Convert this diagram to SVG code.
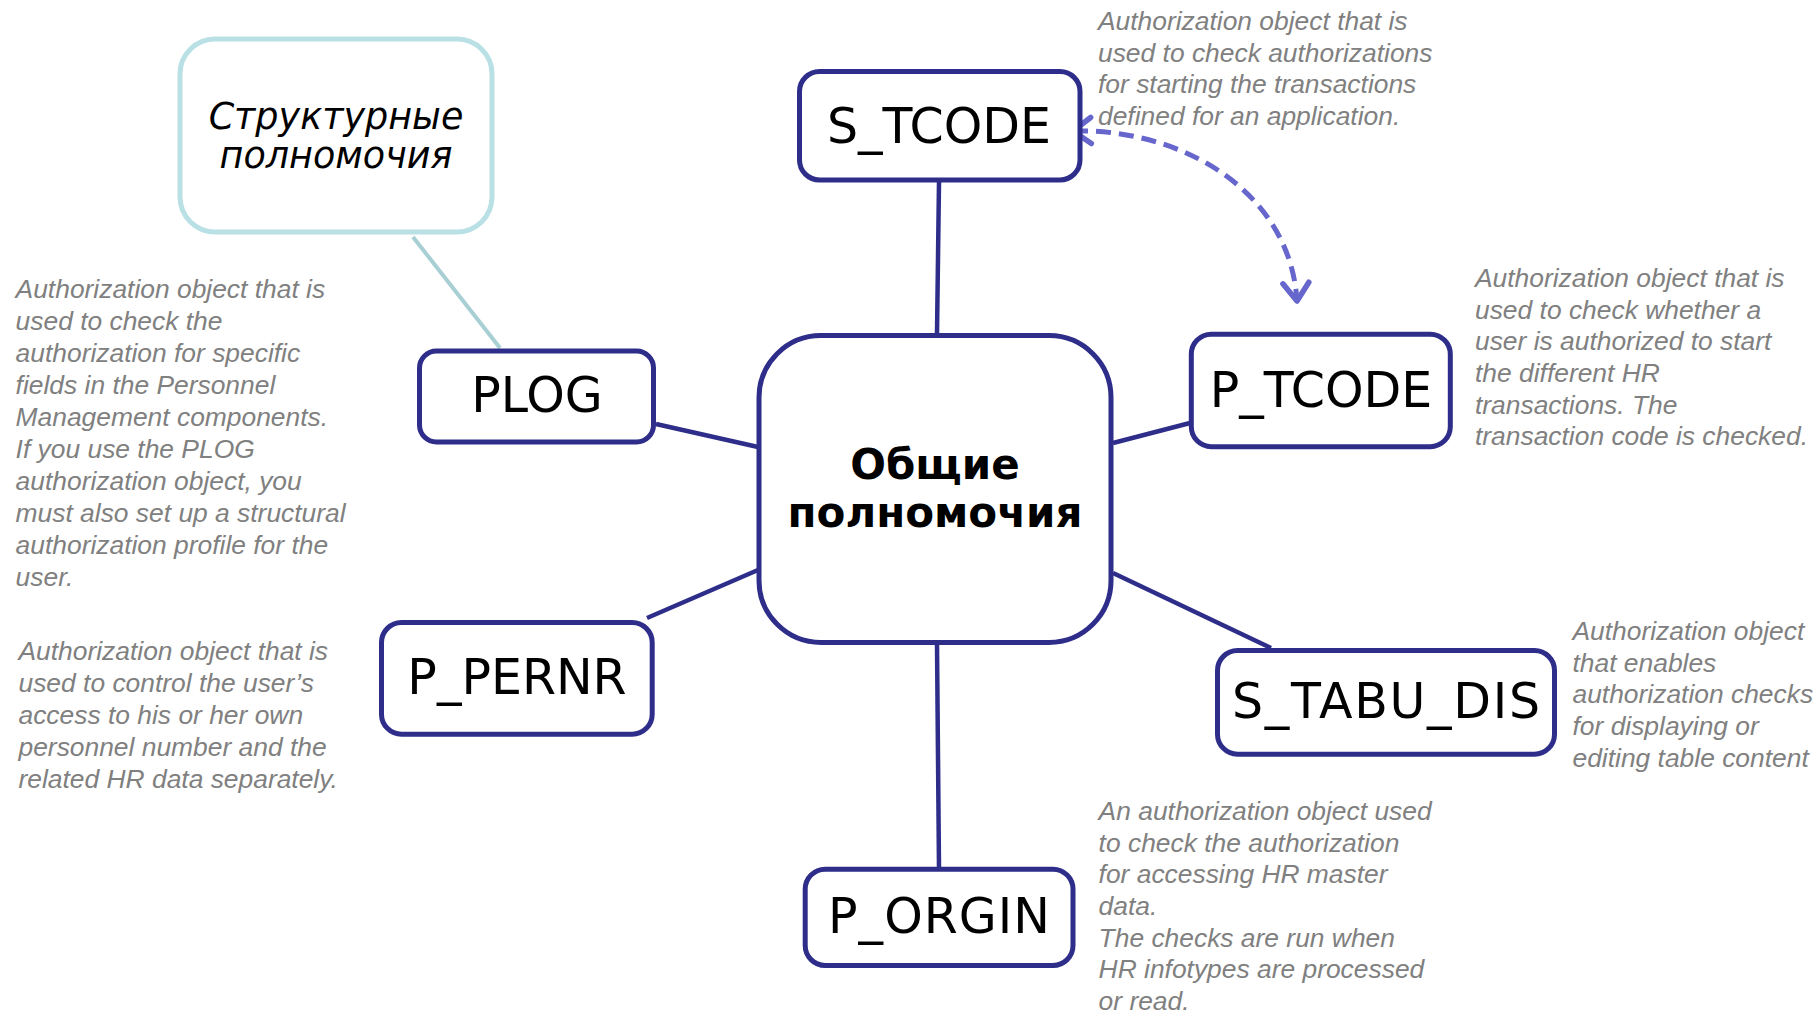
<svg xmlns="http://www.w3.org/2000/svg" width="1820" height="1017" viewBox="0 0 1820 1017">
<style>
.box{fill:#ffffff;stroke:#2e2e8a;stroke-width:5}
.sbox{fill:#ffffff;stroke:#b9e0e4;stroke-width:5}
.lbl{font-family:"DejaVu Sans",Verdana,sans-serif;font-size:49px;fill:#000000;text-anchor:middle}
.center{font-family:"DejaVu Sans",Verdana,sans-serif;font-size:42px;font-weight:bold;fill:#000000;text-anchor:middle}
.struct{font-family:"DejaVu Sans",Verdana,sans-serif;font-size:36.5px;font-style:italic;fill:#000000;text-anchor:middle}
.desc{font-family:"Liberation Sans",Arial,sans-serif;font-size:26.4px;font-style:italic;fill:#808080}
.conn{stroke:#2e2e8a;stroke-width:4.5;fill:none}
.sconn{stroke:#a8d0d4;stroke-width:4;fill:none}
.dash{stroke:#6666cc;stroke-width:5;fill:none;stroke-dasharray:15 8}
</style>
<defs>
<marker id="chev" markerUnits="userSpaceOnUse" viewBox="-24 -18 30 36" markerWidth="30" markerHeight="36" refX="0" refY="0" orient="auto-start-reverse">
<path d="M-18,-13 L0,0 L-18,13" fill="none" stroke="#6666cc" stroke-width="5.5" stroke-linecap="round" stroke-linejoin="round"/>
</marker>
</defs>
<rect width="1820" height="1017" fill="#ffffff"/>
<g id="connectors">
<path class="sconn" d="M413 237 L500 348"/>
<path class="conn" d="M939 182 L937 334"/>
<path class="conn" d="M656 424 L758 447"/>
<path class="conn" d="M647 618 L758 570"/>
<path class="conn" d="M1190 423 L1113 443"/>
<path class="conn" d="M1113 573 L1271 648"/>
<path class="conn" d="M937 644 L939 868"/>
<path class="dash" d="M1073 131 C1180 128 1290 190 1297 301" marker-start="url(#chev)" marker-end="url(#chev)"/>
</g>
<g id="structural">
<rect class="sbox" x="180" y="39" width="312" height="193" rx="35"/>
<text class="struct" x="336" y="129">Структурные</text>
<text class="struct" x="336" y="168">полномочия</text>
</g>
<g id="center">
<rect class="box" x="759" y="335.5" width="352" height="307" rx="62"/>
<text class="center" x="935" y="479">Общие</text>
<text class="center" x="935" y="527">полномочия</text>
</g>
<g id="s_tcode">
<rect class="box" x="799.5" y="71.5" width="280.5" height="108.5" rx="20"/>
<text class="lbl" x="939" y="143">S_TCODE</text>
</g>
<g id="plog">
<rect class="box" x="419.5" y="351" width="234" height="91" rx="17"/>
<text class="lbl" x="537" y="412">PLOG</text>
</g>
<g id="p_tcode">
<rect class="box" x="1191.3" y="334.2" width="259" height="112.5" rx="20"/>
<text class="lbl" x="1321" y="407">P_TCODE</text>
</g>
<g id="s_tabu_dis">
<rect class="box" x="1217.5" y="650.5" width="337" height="103.7" rx="20"/>
<text class="lbl" x="1386" y="718" textLength="308" lengthAdjust="spacing">S_TABU_DIS</text>
</g>
<g id="p_pernr">
<rect class="box" x="381.5" y="622.5" width="270.7" height="111.7" rx="20"/>
<text class="lbl" x="517" y="694">P_PERNR</text>
</g>
<g id="p_orgin">
<rect class="box" x="805.2" y="869.2" width="267.8" height="96.3" rx="20"/>
<text class="lbl" x="939" y="933" textLength="222" lengthAdjust="spacing">P_ORGIN</text>
</g>
<g id="desc_s_tcode">
<text class="desc"><tspan x="1098" y="30">Authorization object that is</tspan><tspan x="1098" y="61.7">used to check authorizations</tspan><tspan x="1098" y="93.3">for starting the transactions</tspan><tspan x="1098" y="125">defined for an application.</tspan></text>
</g>
<g id="desc_p_tcode">
<text class="desc"><tspan x="1475" y="287">Authorization object that is</tspan><tspan x="1475" y="318.7">used to check whether a</tspan><tspan x="1475" y="350.3">user is authorized to start</tspan><tspan x="1475" y="382">the different HR</tspan><tspan x="1475" y="413.7">transactions. The</tspan><tspan x="1475" y="445.3">transaction code is checked.</tspan></text>
</g>
<g id="desc_plog">
<text class="desc"><tspan x="15.6" y="297.5">Authorization object that is</tspan><tspan x="15.6" y="329.5">used to check the</tspan><tspan x="15.6" y="361.6">authorization for specific</tspan><tspan x="15.6" y="393.7">fields in the Personnel</tspan><tspan x="15.6" y="425.7">Management components.</tspan><tspan x="15.6" y="457.8">If you use the PLOG</tspan><tspan x="15.6" y="489.8">authorization object, you</tspan><tspan x="15.6" y="521.9">must also set up a structural</tspan><tspan x="15.6" y="553.9">authorization profile for the</tspan><tspan x="15.6" y="586">user.</tspan></text>
</g>
<g id="desc_p_pernr">
<text class="desc"><tspan x="18.5" y="660">Authorization object that is</tspan><tspan x="18.5" y="692">used to control the user’s</tspan><tspan x="18.5" y="724">access to his or her own</tspan><tspan x="18.5" y="756">personnel number and the</tspan><tspan x="18.5" y="788">related HR data separately.</tspan></text>
</g>
<g id="desc_s_tabu_dis">
<text class="desc"><tspan x="1572.5" y="640">Authorization object</tspan><tspan x="1572.5" y="671.7">that enables</tspan><tspan x="1572.5" y="703.3">authorization checks</tspan><tspan x="1572.5" y="735">for displaying or</tspan><tspan x="1572.5" y="766.7">editing table content</tspan></text>
</g>
<g id="desc_p_orgin">
<text class="desc"><tspan x="1098.6" y="820">An authorization object used</tspan><tspan x="1098.6" y="851.7">to check the authorization</tspan><tspan x="1098.6" y="883.3">for accessing HR master</tspan><tspan x="1098.6" y="915">data.</tspan><tspan x="1098.6" y="946.7">The checks are run when</tspan><tspan x="1098.6" y="978.3">HR infotypes are processed</tspan><tspan x="1098.6" y="1010">or read.</tspan></text>
</g>
</svg>
